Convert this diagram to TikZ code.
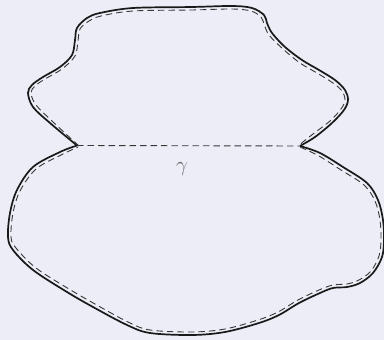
\documentclass[tikz,border=0pt]{standalone}
\begin{document}
\definecolor{bgcol}{RGB}{237,237,248}
\definecolor{solidcol}{RGB}{25,25,25}
\definecolor{dashcol}{RGB}{55,55,55}
\tikzset{
  outer/.style={draw=solidcol, line width=1.7pt, line join=round},
  inner/.style={draw=dashcol, line width=0.9pt, dash pattern=on 6.5pt off 4pt},
  lbl/.style={text=black!60, inner sep=0pt, font=\fontsize{20}{24}\selectfont}
}
\begin{tikzpicture}[x=1pt,y=-1pt]
\useasboundingbox (0,0) rectangle (384,340);
\fill[bgcol] (0,0) rectangle (384,340);
\clip (0,0) rectangle (384,340);
\coordinate (L) at (77,145.5);
\coordinate (R) at (300,146);
% outer solid boundary: upper arc
\draw[outer] plot[smooth, tension=0.55] coordinates {
(77,145.5) (50,123) (33,107) (28,93) (32,85) (43,77) (60,67) (72,55) (75,40) (77,28) (87,18) (100,13) (133,8) (192,7) (232,6) (252,8) (264,15) (267,23) (272,33) (285,47) (302,60) (319,70) (335,80) (345,90) (348,100) (344,110) (332,123) (315,137) (300,146)};
% outer solid boundary: lower arc
\draw[outer] plot[smooth, tension=0.55] coordinates {
(300,146) (320,153) (343,167) (367,183) (378,200) (383,220) (384,240) (382,257) (373,273) (360,283) (347,287) (333,288) (320,293) (299,303) (279,315) (259,323) (225,332) (192,335) (150,333) (127,325) (93,307) (67,292) (33,270) (13,250) (8,237) (10,213) (17,190) (33,167) (60,152) (77,145.5)};
% inner dashed: upper
\draw[inner] plot[smooth, tension=0.55] coordinates {
(79,146) (52,121) (36,105) (31,93) (35,86) (45,79) (62,69) (75,56) (78,41) (80,29) (89,21) (101,16) (133,11) (192,10) (232,9) (251,11) (261,17) (264,24) (269,35) (283,49) (300,63) (317,73) (333,83) (342,91) (345,100) (341,109) (330,121) (313,134) (298,146)};
% inner dashed: lower
\draw[inner] plot[smooth, tension=0.55] coordinates {
(300,147) (319,156) (341,170) (364,185) (375,201) (380,220) (381,240) (379,256) (371,271) (359,280) (347,284) (333,285) (319,290) (298,300) (278,312) (258,320) (225,329) (192,332) (150,330) (128,322) (95,304) (69,289) (36,268) (16,248) (11,237) (13,213) (20,191) (36,169) (61,155) (78,147)};
% gamma cut
\draw[inner] (L) -- (R);
\node[lbl] (g) at (182,169) {$\gamma$};
\end{tikzpicture}
\end{document}
